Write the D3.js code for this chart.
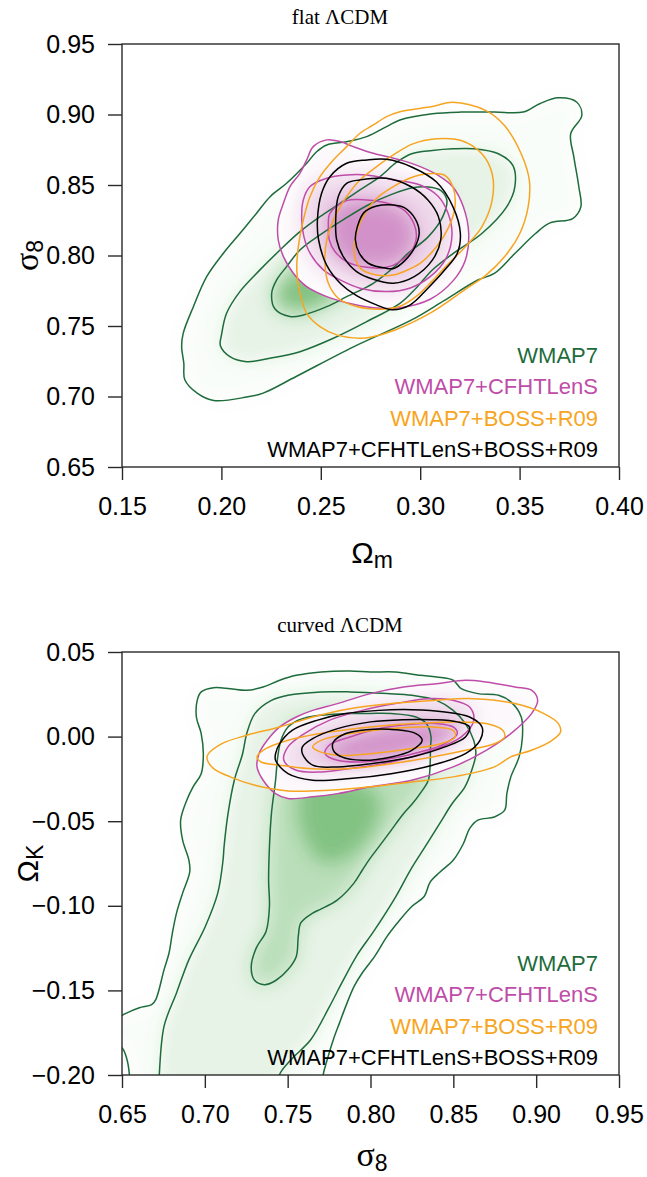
<!DOCTYPE html>
<html><head><meta charset="utf-8">
<script src="https://cdn.jsdelivr.net/npm/d3@7"></script>
<style>body{margin:0;background:#fff}</style>
</head><body><svg id="c" width="647" height="1177" style="display:block;background:#fff"></svg>
<script>
// ---------- labels / ticks ----------
const legendLabels = ["WMAP7","WMAP7+CFHTLenS","WMAP7+BOSS+R09","WMAP7+CFHTLenS+BOSS+R09"];
const seriesColors = ["#1e6b3c","#c04ca9","#f7a520","#000000"];
const topTitle = "flat ΛCDM";
const botTitle = "curved ΛCDM";
const topXTicks = [0.15,0.20,0.25,0.30,0.35,0.40];
const topYTicks = [0.65,0.70,0.75,0.80,0.85,0.90,0.95];
const botXTicks = [0.65,0.70,0.75,0.80,0.85,0.90,0.95];
const botYTicks = [-0.20,-0.15,-0.10,-0.05,0.00,0.05];

// ---------- flat LCDM contours: [Omega_m, sigma_8] ----------
const topWmapOuter = [[0.3694,0.9118],[0.3788,0.9087],[0.3813,0.8993],[0.3757,0.8863],[0.3773,0.8698],[0.3798,0.8486],[0.3808,0.8345],[0.3767,0.8262],[0.3653,0.8231],[0.3580,0.8156],[0.3476,0.8014],[0.3373,0.7873],[0.3290,0.7826],[0.3120,0.7680],[0.2957,0.7543],[0.2667,0.7354],[0.2376,0.7142],[0.2210,0.7024],[0.2127,0.6996],[0.1961,0.6972],[0.1878,0.7024],[0.1816,0.7119],[0.1811,0.7236],[0.1800,0.7354],[0.1808,0.7449],[0.1859,0.7637],[0.1926,0.7850],[0.2010,0.8016],[0.2094,0.8158],[0.2177,0.8300],[0.2245,0.8417],[0.2328,0.8512],[0.2429,0.8654],[0.2479,0.8736],[0.2530,0.8784],[0.2630,0.8807],[0.2731,0.8843],[0.2831,0.8914],[0.2898,0.8961],[0.3061,0.9005],[0.3206,0.9017],[0.3373,0.9017],[0.3518,0.9017],[0.3601,0.9076]];
const topWmapMid = [[0.1995,0.7360],[0.2001,0.7440],[0.2026,0.7590],[0.2093,0.7744],[0.2194,0.7898],[0.2295,0.8039],[0.2395,0.8169],[0.2496,0.8276],[0.2597,0.8370],[0.2697,0.8465],[0.2798,0.8560],[0.2880,0.8660],[0.2957,0.8722],[0.3061,0.8745],[0.3165,0.8757],[0.3269,0.8757],[0.3393,0.8722],[0.3466,0.8639],[0.3476,0.8486],[0.3435,0.8345],[0.3310,0.8156],[0.3165,0.8014],[0.3061,0.7897],[0.2980,0.7770],[0.2898,0.7661],[0.2731,0.7531],[0.2563,0.7413],[0.2395,0.7318],[0.2244,0.7271],[0.2127,0.7247],[0.2043,0.7283]];
const topWmapInner = [[0.2253,0.7732],[0.2278,0.7827],[0.2328,0.7921],[0.2395,0.8039],[0.2500,0.8150],[0.2620,0.8260],[0.2740,0.8360],[0.2850,0.8430],[0.2960,0.8480],[0.3040,0.8486],[0.3103,0.8462],[0.3134,0.8392],[0.3113,0.8274],[0.3040,0.8132],[0.2937,0.8014],[0.2870,0.7920],[0.2764,0.7803],[0.2630,0.7708],[0.2530,0.7637],[0.2412,0.7578],[0.2345,0.7567],[0.2270,0.7620]];
const topWmapCore = [[0.2280,0.7680],[0.2320,0.7810],[0.2400,0.7880],[0.2500,0.7850],[0.2560,0.7750],[0.2500,0.7650],[0.2400,0.7620]];
const topCfhtOuter = [[0.2286,0.8110],[0.2286,0.8252],[0.2312,0.8370],[0.2345,0.8489],[0.2395,0.8583],[0.2429,0.8678],[0.2462,0.8772],[0.2530,0.8820],[0.2597,0.8808],[0.2664,0.8772],[0.2764,0.8725],[0.2898,0.8678],[0.3000,0.8630],[0.3100,0.8560],[0.3165,0.8486],[0.3217,0.8345],[0.3244,0.8156],[0.3227,0.7967],[0.3165,0.7820],[0.3050,0.7690],[0.2898,0.7630],[0.2764,0.7630],[0.2630,0.7665],[0.2530,0.7708],[0.2429,0.7779],[0.2362,0.7874],[0.2312,0.7992]];
const topCfhtMid = [[0.2404,0.8252],[0.2412,0.8394],[0.2446,0.8489],[0.2530,0.8548],[0.2630,0.8571],[0.2731,0.8571],[0.2865,0.8536],[0.3000,0.8500],[0.3090,0.8420],[0.3140,0.8300],[0.3160,0.8150],[0.3130,0.7980],[0.3050,0.7850],[0.2950,0.7770],[0.2831,0.7744],[0.2697,0.7768],[0.2597,0.7827],[0.2513,0.7898],[0.2446,0.8016],[0.2415,0.8134]];
const topCfhtInner = [[0.2538,0.8205],[0.2546,0.8299],[0.2630,0.8389],[0.2731,0.8394],[0.2848,0.8366],[0.2920,0.8320],[0.2970,0.8220],[0.2980,0.8120],[0.2950,0.8020],[0.2890,0.7950],[0.2831,0.7916],[0.2731,0.7916],[0.2630,0.7957],[0.2571,0.8028],[0.2543,0.8110]];
const topBossOuter = [[0.2379,0.7898],[0.2387,0.8063],[0.2412,0.8252],[0.2446,0.8418],[0.2496,0.8559],[0.2563,0.8678],[0.2630,0.8772],[0.2697,0.8867],[0.2764,0.8926],[0.2831,0.8985],[0.2898,0.9020],[0.3061,0.9057],[0.3165,0.9087],[0.3331,0.9028],[0.3424,0.8922],[0.3508,0.8722],[0.3549,0.8533],[0.3543,0.8345],[0.3501,0.8156],[0.3424,0.7991],[0.3331,0.7861],[0.3227,0.7760],[0.3061,0.7600],[0.2874,0.7472],[0.2750,0.7420],[0.2697,0.7413],[0.2580,0.7437],[0.2496,0.7496],[0.2429,0.7590],[0.2395,0.7732]];
const topBossMid = [[0.2521,0.7945],[0.2530,0.8110],[0.2571,0.8276],[0.2630,0.8418],[0.2697,0.8536],[0.2781,0.8630],[0.2865,0.8713],[0.2960,0.8790],[0.3082,0.8828],[0.3206,0.8816],[0.3310,0.8722],[0.3362,0.8580],[0.3362,0.8392],[0.3310,0.8203],[0.3227,0.8062],[0.3144,0.7944],[0.3061,0.7820],[0.2980,0.7710],[0.2898,0.7640],[0.2798,0.7619],[0.2680,0.7638],[0.2588,0.7697],[0.2538,0.7803]];
const topBossInner = [[0.2667,0.8063],[0.2684,0.8181],[0.2722,0.8299],[0.2781,0.8406],[0.2865,0.8489],[0.2950,0.8550],[0.3040,0.8580],[0.3123,0.8569],[0.3165,0.8486],[0.3175,0.8345],[0.3144,0.8203],[0.3082,0.8062],[0.2999,0.7944],[0.2916,0.7885],[0.2865,0.7862],[0.2781,0.7862],[0.2709,0.7898],[0.2675,0.7969]];
const topAllOuter = [[0.2483,0.8252],[0.2504,0.8441],[0.2546,0.8559],[0.2630,0.8654],[0.2731,0.8678],[0.2831,0.8682],[0.2957,0.8628],[0.3082,0.8521],[0.3165,0.8345],[0.3202,0.8156],[0.3186,0.8014],[0.3123,0.7897],[0.3040,0.7770],[0.2950,0.7650],[0.2860,0.7615],[0.2780,0.7650],[0.2680,0.7715],[0.2600,0.7800],[0.2530,0.7930],[0.2489,0.8110]];
const topAllMid = [[0.2575,0.8252],[0.2588,0.8418],[0.2630,0.8512],[0.2697,0.8536],[0.2831,0.8548],[0.2957,0.8486],[0.3040,0.8392],[0.3092,0.8274],[0.3103,0.8109],[0.3061,0.7967],[0.2970,0.7850],[0.2865,0.7803],[0.2764,0.7831],[0.2680,0.7886],[0.2613,0.7992],[0.2580,0.8110]];
const topAllInner = [[0.2674,0.8110],[0.2684,0.8205],[0.2717,0.8304],[0.2781,0.8351],[0.2865,0.8359],[0.2920,0.8340],[0.2975,0.8260],[0.2995,0.8160],[0.2970,0.8050],[0.2920,0.7960],[0.2870,0.7910],[0.2831,0.7909],[0.2739,0.7945],[0.2694,0.8016]];

// ---------- curved LCDM contours: [sigma_8, Omega_K] ----------
const botWmapOuter = [[0.6949,0.0116],[0.6954,0.0214],[0.6978,0.0264],[0.7053,0.0289],[0.7153,0.0283],[0.7253,0.0274],[0.7352,0.0293],[0.7452,0.0333],[0.7552,0.0362],[0.7701,0.0382],[0.7876,0.0388],[0.8000,0.0382],[0.8150,0.0382],[0.8299,0.0362],[0.8399,0.0352],[0.8499,0.0333],[0.8548,0.0283],[0.8648,0.0254],[0.8773,0.0244],[0.8847,0.0205],[0.8910,0.0116],[0.8917,-0.0002],[0.8897,-0.0120],[0.8847,-0.0238],[0.8823,-0.0337],[0.8810,-0.0435],[0.8748,-0.0475],[0.8648,-0.0494],[0.8598,-0.0544],[0.8561,-0.0632],[0.8499,-0.0731],[0.8420,-0.0800],[0.8360,-0.0860],[0.8324,-0.0945],[0.8249,-0.1004],[0.8162,-0.1102],[0.8100,-0.1181],[0.8025,-0.1299],[0.7950,-0.1397],[0.7901,-0.1476],[0.7851,-0.1593],[0.7813,-0.1692],[0.7776,-0.1790],[0.7739,-0.1908],[0.7714,-0.2000],[0.7700,-0.2150],[0.6550,-0.2150],[0.6545,-0.2000],[0.6530,-0.1908],[0.6500,-0.1839],[0.6420,-0.1800],[0.6400,-0.1720],[0.6493,-0.1652],[0.6530,-0.1633],[0.6605,-0.1603],[0.6679,-0.1584],[0.6704,-0.1554],[0.6754,-0.1377],[0.6784,-0.1279],[0.6804,-0.1161],[0.6829,-0.1043],[0.6866,-0.0925],[0.6909,-0.0800],[0.6904,-0.0731],[0.6866,-0.0612],[0.6854,-0.0494],[0.6891,-0.0376],[0.6929,-0.0297],[0.6978,-0.0219],[0.6991,-0.0101],[0.6978,0.0018]];
const botWmapMid = [[0.6725,-0.2000],[0.6754,-0.1711],[0.6829,-0.1515],[0.6904,-0.1318],[0.7003,-0.1122],[0.7078,-0.0925],[0.7110,-0.0729],[0.7116,-0.0652],[0.7140,-0.0455],[0.7178,-0.0258],[0.7228,-0.0101],[0.7253,0.0018],[0.7302,0.0136],[0.7402,0.0214],[0.7502,0.0244],[0.7701,0.0264],[0.7876,0.0264],[0.8100,0.0254],[0.8249,0.0244],[0.8399,0.0214],[0.8499,0.0155],[0.8573,0.0077],[0.8623,-0.0022],[0.8636,-0.0101],[0.8611,-0.0199],[0.8570,-0.0297],[0.8490,-0.0400],[0.8420,-0.0510],[0.8330,-0.0650],[0.8240,-0.0790],[0.8150,-0.0950],[0.8020,-0.1150],[0.7920,-0.1290],[0.7830,-0.1450],[0.7750,-0.1600],[0.7640,-0.1790],[0.7520,-0.1910],[0.7450,-0.2000],[0.7440,-0.2150],[0.6720,-0.2150]];
const botWmapInner = [[0.7460,-0.0020],[0.7502,0.0057],[0.7560,0.0095],[0.7626,0.0116],[0.7750,0.0130],[0.7876,0.0136],[0.8000,0.0137],[0.8125,0.0136],[0.8274,0.0116],[0.8337,0.0077],[0.8365,0.0000],[0.8362,-0.0061],[0.8360,-0.0160],[0.8349,-0.0258],[0.8299,-0.0337],[0.8250,-0.0400],[0.8200,-0.0455],[0.8120,-0.0560],[0.8050,-0.0652],[0.7990,-0.0730],[0.7950,-0.0790],[0.7900,-0.0866],[0.7801,-0.0965],[0.7700,-0.1020],[0.7651,-0.1043],[0.7580,-0.1100],[0.7564,-0.1180],[0.7552,-0.1299],[0.7502,-0.1377],[0.7430,-0.1440],[0.7360,-0.1466],[0.7300,-0.1440],[0.7280,-0.1360],[0.7310,-0.1250],[0.7370,-0.1150],[0.7390,-0.1004],[0.7385,-0.0850],[0.7390,-0.0652],[0.7402,-0.0455],[0.7427,-0.0258],[0.7440,-0.0120]];
const botWmapCore = [[0.7600,-0.0280],[0.7750,-0.0260],[0.7950,-0.0280],[0.8060,-0.0380],[0.8000,-0.0580],[0.7850,-0.0720],[0.7700,-0.0740],[0.7600,-0.0600],[0.7560,-0.0430]];
const botCfhtOuter = [[0.7315,-0.0179],[0.7352,-0.0258],[0.7427,-0.0337],[0.7502,-0.0366],[0.7651,-0.0356],[0.7801,-0.0337],[0.8000,-0.0297],[0.8249,-0.0258],[0.8499,-0.0179],[0.8698,-0.0081],[0.8847,0.0018],[0.8972,0.0136],[0.9009,0.0214],[0.8972,0.0274],[0.8872,0.0293],[0.8698,0.0323],[0.8573,0.0333],[0.8399,0.0313],[0.8200,0.0293],[0.8000,0.0254],[0.7801,0.0195],[0.7651,0.0155],[0.7552,0.0116],[0.7452,0.0057],[0.7377,-0.0022],[0.7327,-0.0101]];
const botCfhtMid = [[0.7477,-0.0140],[0.7552,-0.0199],[0.7701,-0.0209],[0.7876,-0.0189],[0.8125,-0.0150],[0.8374,-0.0081],[0.8548,-0.0002],[0.8623,0.0096],[0.8598,0.0175],[0.8499,0.0214],[0.8349,0.0224],[0.8150,0.0195],[0.7950,0.0155],[0.7751,0.0096],[0.7601,0.0018],[0.7502,-0.0061]];
const botCfhtInner = [[0.7726,-0.0101],[0.7801,-0.0140],[0.7950,-0.0150],[0.8125,-0.0130],[0.8299,-0.0091],[0.8449,-0.0041],[0.8524,0.0018],[0.8499,0.0057],[0.8399,0.0077],[0.8249,0.0073],[0.8050,0.0047],[0.7876,-0.0002],[0.7751,-0.0051]];
const botBossOuter = [[0.7016,-0.0110],[0.7103,-0.0042],[0.7253,0.0008],[0.7452,0.0057],[0.7651,0.0116],[0.7876,0.0165],[0.8125,0.0195],[0.8374,0.0214],[0.8623,0.0224],[0.8872,0.0195],[0.9047,0.0136],[0.9134,0.0077],[0.9147,0.0027],[0.9097,-0.0022],[0.8972,-0.0081],[0.8847,-0.0120],[0.8748,-0.0179],[0.8499,-0.0238],[0.8249,-0.0268],[0.8000,-0.0297],[0.7751,-0.0317],[0.7502,-0.0321],[0.7302,-0.0288],[0.7153,-0.0238],[0.7053,-0.0189],[0.7016,-0.0140]];
const botBossMid = [[0.7315,-0.0120],[0.7352,-0.0081],[0.7502,-0.0022],[0.7751,0.0027],[0.8000,0.0057],[0.8249,0.0077],[0.8499,0.0087],[0.8698,0.0077],[0.8798,0.0037],[0.8810,-0.0002],[0.8748,-0.0042],[0.8573,-0.0081],[0.8374,-0.0120],[0.8125,-0.0160],[0.7876,-0.0189],[0.7626,-0.0189],[0.7452,-0.0169],[0.7340,-0.0150]];
const botBossInner = [[0.7651,-0.0061],[0.7701,-0.0022],[0.7876,0.0018],[0.8125,0.0047],[0.8374,0.0057],[0.8499,0.0037],[0.8511,-0.0002],[0.8424,-0.0042],[0.8249,-0.0071],[0.8000,-0.0101],[0.7801,-0.0110],[0.7676,-0.0081]];
const botAllOuter = [[0.7427,-0.0140],[0.7502,-0.0219],[0.7651,-0.0258],[0.7876,-0.0248],[0.8125,-0.0219],[0.8374,-0.0169],[0.8573,-0.0101],[0.8661,-0.0022],[0.8673,0.0057],[0.8598,0.0116],[0.8449,0.0146],[0.8249,0.0159],[0.8050,0.0155],[0.7851,0.0136],[0.7676,0.0096],[0.7527,0.0037],[0.7452,-0.0042],[0.7427,-0.0101]];
const botAllMid = [[0.7589,-0.0101],[0.7651,-0.0169],[0.7801,-0.0179],[0.8000,-0.0160],[0.8249,-0.0120],[0.8449,-0.0061],[0.8573,-0.0002],[0.8598,0.0057],[0.8524,0.0087],[0.8374,0.0100],[0.8200,0.0100],[0.8000,0.0087],[0.7801,0.0047],[0.7651,-0.0012],[0.7589,-0.0061]];
const botAllInner = [[0.7776,-0.0081],[0.7826,-0.0120],[0.7950,-0.0140],[0.8125,-0.0120],[0.8249,-0.0081],[0.8312,-0.0022],[0.8274,0.0018],[0.8150,0.0041],[0.7975,0.0041],[0.7851,0.0018],[0.7776,-0.0032]];

// ---------- drawing ----------
const W = 647, H = 1177;
const svg = d3.select("#c");
const defs = svg.append("defs");
const sansFont = "'Liberation Sans', Arial, Helvetica, sans-serif";
const serifFont = "'Liberation Serif', 'Times New Roman', serif";
const greenShade = "#3a9f3a", pinkShade = "#b0409f";
const greenOp = [0.025, 0.1, 0.25, 0.45];
const pinkOp = [0.04, 0.18, 0.45];

function panel(cfg) {
  const L = 122, R = 619;
  const x = d3.scaleLinear().domain(cfg.xDomain).range([L, R]);
  const y = d3.scaleLinear().domain(cfg.yDomain).range([cfg.bottom, cfg.top]);
  const id = cfg.id;
  const line = d3.line().x(d => x(d[0])).y(d => y(d[1])).curve(d3.curveCatmullRomClosed.alpha(0.5));

  defs.append("clipPath").attr("id", id + "clip").append("rect")
    .attr("x", L).attr("y", cfg.top).attr("width", R - L).attr("height", cfg.bottom - cfg.top);
  defs.append("clipPath").attr("id", id + "mclip").append("path").attr("d", line(cfg.cfht[0]));
  defs.append("filter").attr("id", id + "blur").attr("filterUnits", "userSpaceOnUse")
    .attr("x", 0).attr("y", 0).attr("width", W).attr("height", H)
    .append("feGaussianBlur").attr("stdDeviation", 9);

  const g = svg.append("g");
  const plot = g.append("g").attr("clip-path", `url(#${id}clip)`);
  // green density
  plot.append("g").attr("filter", `url(#${id}blur)`)
    .selectAll("path").data(cfg.wmap.concat([cfg.wmapCore])).join("path")
    .attr("d", line).attr("fill", greenShade).attr("fill-opacity", (d, i) => greenOp[i]);
  // magenta density (opaque patch)
  plot.append("path").attr("d", line(cfg.cfht[0])).attr("fill", "#fff");
  plot.append("g").attr("clip-path", `url(#${id}mclip)`)
    .append("g").attr("filter", `url(#${id}blur)`)
    .selectAll("path").data(cfg.cfht).join("path")
    .attr("d", line).attr("fill", pinkShade).attr("fill-opacity", (d, i) => pinkOp[i]);
  // contour lines
  [cfg.wmap, cfg.cfht, cfg.boss, cfg.all].forEach((set, k) => {
    plot.append("g").selectAll("path").data(set).join("path")
      .attr("d", line).attr("fill", "none")
      .attr("stroke", seriesColors[k]).attr("stroke-width", 1.5).attr("stroke-linejoin", "round");
  });

  // axes
  const ax = g.append("g").attr("transform", `translate(${L},0)`)
    .call(d3.axisLeft(y).tickValues(cfg.yTicks).tickFormat(d3.format(".2f")).tickSize(14).tickPadding(13).tickSizeOuter(0));
  const bx = g.append("g").attr("transform", `translate(0,${cfg.bottom})`)
    .call(d3.axisBottom(x).tickValues(cfg.xTicks).tickFormat(d3.format(".2f")).tickSize(13).tickPadding(17).tickSizeOuter(0));
  [ax, bx].forEach(a => {
    a.select(".domain").remove();
    a.attr("font-size", 25).attr("font-family", sansFont);
    a.selectAll("line").attr("stroke", "#2a2a2a").attr("stroke-width", 1.4);
    a.selectAll("text").attr("fill", "#000");
  });
  g.append("rect").attr("x", L).attr("y", cfg.top).attr("width", R - L).attr("height", cfg.bottom - cfg.top)
    .attr("fill", "none").attr("stroke", "#2a2a2a").attr("stroke-width", 1.4);

  // legend
  g.append("g").selectAll("text").data(legendLabels).join("text")
    .attr("x", 598).attr("y", (d, i) => cfg.bottom - 104 + i * 31.3)
    .attr("text-anchor", "end").attr("font-family", sansFont).attr("font-size", 22)
    .attr("fill", (d, i) => seriesColors[i]).text(d => d);

  // title
  g.append("text").attr("x", 340).attr("y", cfg.top - 20).attr("text-anchor", "middle")
    .attr("font-family", serifFont).attr("font-size", 21).attr("fill", "#000").text(cfg.title);

  // x label
  const xl = g.append("text").attr("x", 372).attr("y", cfg.bottom + cfg.xLabelDy).attr("text-anchor", "middle").attr("fill", "#000");
  xl.append("tspan").attr("font-family", cfg.xSym === "Ω" ? sansFont : serifFont).attr("font-size", cfg.xSym === "Ω" ? 30 : 34).text(cfg.xSym);
  xl.append("tspan").attr("font-family", sansFont).attr("font-size", 23).attr("dy", 5).text(cfg.xSub);
  // y label
  const yl = g.append("text").attr("transform", `translate(38,${(cfg.top + cfg.bottom) / 2}) rotate(-90)`)
    .attr("text-anchor", "middle").attr("fill", "#000");
  yl.append("tspan").attr("font-family", cfg.ySym === "Ω" ? sansFont : serifFont).attr("font-size", cfg.ySym === "Ω" ? 30 : 34).text(cfg.ySym);
  yl.append("tspan").attr("font-family", sansFont).attr("font-size", 23).attr("dy", 5).text(cfg.ySub);
}

panel({
  id: "p1", top: 44, bottom: 467, xDomain: [0.15, 0.40], yDomain: [0.65, 0.95],
  xTicks: topXTicks, yTicks: topYTicks, title: topTitle,
  xSym: "Ω", xSub: "m", ySym: "σ", ySub: "8", xLabelDy: 96,
  wmap: [topWmapOuter, topWmapMid, topWmapInner], wmapCore: topWmapCore,
  cfht: [topCfhtOuter, topCfhtMid, topCfhtInner],
  boss: [topBossOuter, topBossMid, topBossInner],
  all: [topAllOuter, topAllMid, topAllInner]
});
panel({
  id: "p2", top: 652, bottom: 1075, xDomain: [0.65, 0.95], yDomain: [-0.20, 0.05],
  xTicks: botXTicks, yTicks: botYTicks, title: botTitle,
  xSym: "σ", xSub: "8", ySym: "Ω", ySub: "K", xLabelDy: 91,
  wmap: [botWmapOuter, botWmapMid, botWmapInner], wmapCore: botWmapCore,
  cfht: [botCfhtOuter, botCfhtMid, botCfhtInner],
  boss: [botBossOuter, botBossMid, botBossInner],
  all: [botAllOuter, botAllMid, botAllInner]
});
</script></body></html>
